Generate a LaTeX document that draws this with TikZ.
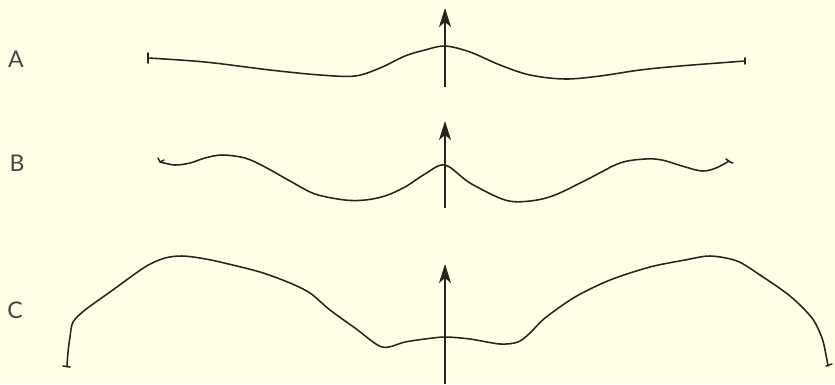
\documentclass[tikz,border=0pt]{standalone}
\usepackage{fontspec}
\setmainfont{Lato}
\usetikzlibrary{arrows.meta}
\definecolor{paper}{RGB}{255,255,232}
\definecolor{ink}{RGB}{38,36,30}
\tikzset{
  curve/.style={draw=ink, line width=1.55pt, line join=round, line cap=round},
  axis/.style={draw=ink, line width=1.4pt, -{Stealth[length=19pt, width=12pt, inset=5pt]}},
  lbl/.style={font=\fontsize{23}{25}\selectfont, text=ink!85},
}
\begin{document}
\begin{tikzpicture}[x=1pt,y=-1pt]
\fill[paper] (0,0) rectangle (835,384);
\useasboundingbox (0,0) rectangle (835,384);

% labels
\node[lbl] (la) at (16,59) {A};
\node[lbl] (lb) at (17,163) {B};
\node[lbl] (lc) at (15,310) {C};

% axes
\coordinate (a0) at (445,87);  \coordinate (a1) at (445,8);
\coordinate (b0) at (445,208); \coordinate (b1) at (445,121);
\coordinate (c0) at (445,384); \coordinate (c1) at (445,264);
\draw[axis] (a0) -- (a1);
\draw[axis] (b0) -- (b1);
\draw[axis] (c0) -- (c1);

% curve A
\draw[curve] (148,53) -- (148,63);
\draw[curve] plot[smooth, tension=0.55] coordinates {
 (148,58) (205,62) (270,70) (320,75) (355,76) (380,68) (405,56) (425,50) (445,46)
 (470,52) (500,65) (530,75) (565,79) (600,76) (640,70) (680,66) (745,61)};
\draw[curve] (745,58) -- (745,64);

% curve B
\draw[curve] (158,158) -- (160,162) -- (164,160);
\draw[curve] plot[smooth, tension=0.55] coordinates {
 (160,162) (175,165) (190,163) (205,158) (222,155) (245,158) (265,167) (290,181)
 (315,194) (345,200) (365,200) (385,196) (405,187) (425,174) (445,165)
 (470,183) (505,200) (530,201) (555,195) (590,178) (620,163) (645,159) (662,160)
 (682,166) (702,171) (716,168) (729,161)};
\draw[curve] (726,159) -- (730,162) -- (733,163);

% curve C
\draw[curve] (63,366) -- (70,367);
\draw[curve] plot[smooth, tension=0.5] coordinates {
 (67,366) (68,352) (70,337) (73,322) (85,310) (110,292) (145,267) (165,258)
 (182,256) (200,258) (220,262) (260,272) (290,283) (310,293) (330,310) (355,328)
 (382,347) (405,342) (425,339) (445,337) (470,339) (500,344) (518,342) (530,333)
 (545,318) (575,297) (610,280) (650,267) (685,260) (710,256) (737,261) (760,275)
 (790,296) (812,318) (822,338) (826,355) (828,366)};
\draw[curve] (826,366) -- (832,364);
\end{tikzpicture}
\end{document}
